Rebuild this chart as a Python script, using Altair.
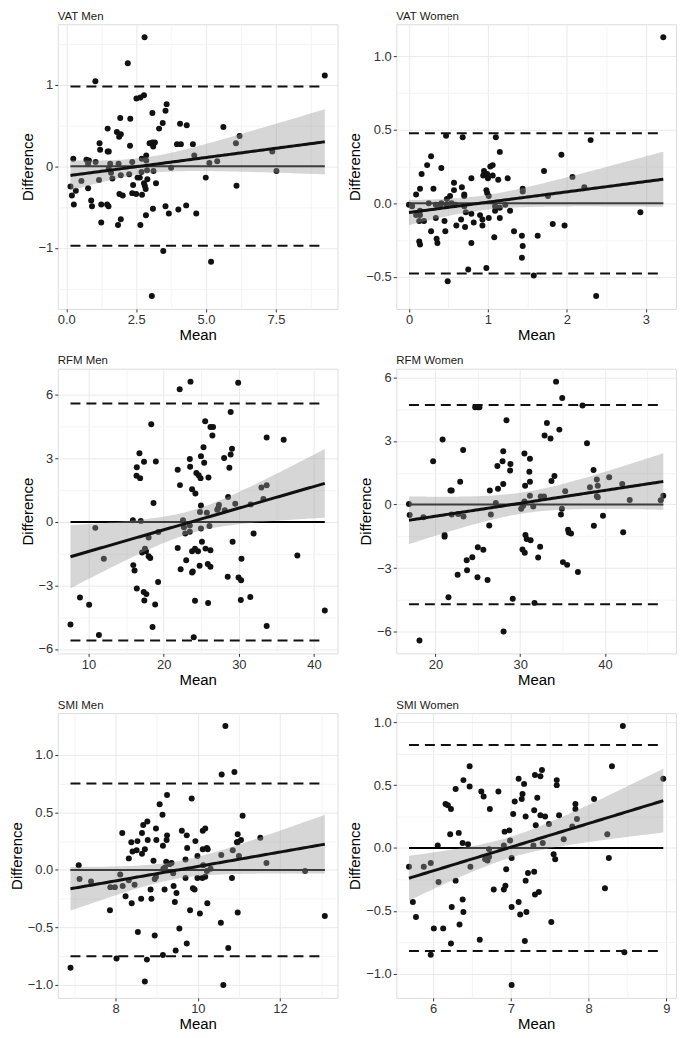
import json
import numpy as np
import pandas as pd
import altair as alt

FONT = "Liberation Sans"

# ---------------- data ----------------
vat_men_mean = [2.80, 2.20, 9.25, 1.04, 2.51, 2.65, 2.78, 3.59, 3.55, 3.08, 1.93, 2.29, 3.45, 4.07, 4.31, 5.62, 3.32,
                1.48, 1.81, 1.95, 1.89, 6.20, 1.19, 2.28, 2.98, 3.08, 3.17, 3.11, 3.96, 4.10, 4.53, 6.07, 1.21, 1.48,
                1.52, 4.58, 2.86, 2.70, 7.37, 0.25, 0.72, 0.81, 1.05, 2.86, 5.40, 0.78, 1.57, 1.87, 2.36, 5.12, 3.75,
                3.12, 2.89, 2.69, 7.52, 0.54, 1.17, 1.52, 1.65, 1.60, 1.95, 2.25, 0.15, 0.78, 2.55, 2.63, 2.39, 2.78,
                2.81, 2.84, 2.90, 3.21, 4.99, 6.09, 0.20, 0.34, 0.27, 0.89, 0.92, 1.25, 1.46, 1.51, 1.90, 2.02, 2.36,
                2.50, 2.71, 3.10, 3.55, 3.67, 4.01, 4.29, 4.65, 2.85, 1.25, 1.95, 1.85, 2.65, 3.47, 5.18, 3.06]
vat_men_diff = [1.58, 1.26, 1.11, 1.04, 0.83, 0.84, 0.87, 0.76, 0.68, 0.65, 0.59, 0.58, 0.53, 0.52, 0.50, 0.48, 0.46,
                0.46, 0.42, 0.39, 0.36, 0.37, 0.28, 0.25, 0.28, 0.29, 0.29, 0.24, 0.27, 0.27, 0.27, 0.28, 0.20, 0.18,
                0.18, 0.13, 0.13, 0.09, 0.18, 0.09, 0.08, 0.07, 0.05, 0.07, 0.06, 0.03, 0.03, 0.03, 0.05, 0.04, -0.02,
                -0.06, -0.05, -0.07, -0.06, -0.18, -0.17, -0.03, -0.15, -0.08, -0.11, -0.10, -0.25, -0.27, -0.14, -0.14,
                -0.23, -0.21, -0.24, -0.28, -0.16, -0.21, -0.14, -0.24, -0.36, -0.30, -0.47, -0.42, -0.49, -0.47, -0.47,
                -0.49, -0.34, -0.36, -0.33, -0.34, -0.35, -0.52, -0.49, -0.58, -0.53, -0.48, -0.58, -0.60, -0.69, -0.65,
                -0.72, -0.72, -1.04, -1.17, -1.59]

vat_women_mean = [3.22, 2.30, 0.47, 0.68, 1.10, 1.15, 1.93, 0.28, 0.41, 0.23, 0.16, 1.71, 0.31, 0.14, 0.09, 0.79, 0.95,
                  0.94, 0.99, 1.06, 1.03, 1.00, 1.06, 1.13, 1.25, 2.07, 2.22, 1.44, 1.44, 1.76, 0.57, 0.57, 0.67, 0.70,
                  0.70, 0.52, 0.98, 0.99, 1.01, 0.48, 0.25, 0.00, 0.04, 0.34, 0.40, 0.48, 0.54, 0.70, 0.72, 1.09, 1.15,
                  1.22, 0.14, 0.14, 0.13, 0.19, 0.34, 0.66, 0.79, 0.90, 0.93, 1.01, 1.09, 1.15, 1.28, 0.60, 0.71, 0.82,
                  0.93, 1.82, 1.97, 2.93, 0.28, 0.46, 0.45, 1.08, 1.33, 1.43, 1.63, 0.13, 0.14, 0.35, 0.36, 0.79, 1.44,
                  1.43, 0.75, 0.98, 1.58, 0.49, 2.37, 0.59, 0.41, 0.09]
vat_women_diff = [1.13, 0.43, 0.46, 0.45, 0.45, 0.35, 0.33, 0.32, 0.24, 0.26, 0.20, 0.22, 0.10, 0.10, 0.06, 0.17, 0.22,
                  0.19, 0.20, 0.26, 0.25, 0.17, 0.19, 0.16, 0.17, 0.18, 0.11, 0.10, 0.08, 0.05, 0.14, 0.09, 0.11, 0.06,
                  0.05, 0.05, 0.09, 0.07, 0.05, 0.03, 0.00, -0.01, -0.02, -0.01, -0.01, -0.01, 0.00, -0.02, -0.06, -0.02,
                  -0.03, -0.01, -0.05, -0.08, -0.12, -0.12, -0.10, -0.11, -0.07, -0.08, -0.11, -0.10, -0.05, -0.10, -0.05,
                  -0.15, -0.16, -0.13, -0.15, -0.14, -0.15, -0.06, -0.19, -0.19, -0.12, -0.23, -0.19, -0.22, -0.22, -0.26,
                  -0.28, -0.24, -0.27, -0.27, -0.29, -0.37, -0.45, -0.44, -0.49, -0.53, -0.63, -0.01, 0.00, -0.08]

rfm_men_mean = [23.57, 22.13, 29.91, 28.91, 18.35, 25.52, 26.22, 26.57, 26.48, 33.70, 35.96, 25.30, 29.09, 16.78, 28.91,
                24.96, 28.04, 23.48, 17.39, 18.96, 25.39, 21.87, 23.52, 16.43, 28.74, 24.35, 24.65, 24.91, 25.96, 16.39,
                16.87, 22.17, 23.78, 24.22, 33.00, 33.70, 33.26, 28.57, 18.65, 29.52, 31.57, 27.35, 27.26, 27.13, 28.13,
                24.96, 24.83, 25.74, 15.91, 16.96, 22.57, 10.91, 12.04, 22.70, 23.48, 23.48, 22.87, 24.96, 26.09, 19.30,
                18.00, 17.52, 17.65, 17.13, 18.00, 18.22, 21.87, 23.78, 24.17, 24.57, 25.09, 25.57, 26.22, 29.17, 31.96,
                30.35, 37.78, 23.00, 22.26, 23.87, 23.78, 24.78, 25.87, 26.22, 15.96, 16.13, 19.26, 28.52, 29.96, 30.30,
                16.43, 17.35, 17.70, 8.87, 10.09, 17.43, 18.87, 24.17, 25.91, 30.26, 31.52, 7.61, 41.43, 18.52, 33.70,
                11.39, 24.00]
rfm_men_diff = [6.63, 6.27, 6.58, 5.20, 4.62, 4.76, 4.49, 4.49, 4.08, 3.99, 3.88, 3.53, 3.46, 3.25, 3.19, 3.11, 3.02,
                2.97, 2.84, 2.86, 2.80, 2.47, 2.61, 2.58, 2.56, 2.31, 2.21, 2.07, 2.10, 2.18, 2.07, 1.74, 1.55, 1.34,
                1.63, 1.73, 1.08, 1.18, 0.90, 0.86, 0.83, 0.80, 0.66, 0.58, 0.55, 0.78, 0.47, 0.44, 0.08, 0.05, 0.08,
                -0.28, -1.74, -0.25, -0.17, -0.46, -0.55, -0.31, -0.19, -0.47, -0.74, -1.27, -1.38, -1.44, -1.62, -1.70,
                -1.23, -1.38, -1.26, -1.38, -0.94, -1.26, -1.34, -0.94, -0.55, -1.74, -1.59, -1.81, -2.23, -2.34, -2.39,
                -2.07, -1.99, -2.12, -2.04, -2.29, -2.84, -2.59, -2.62, -2.76, -3.14, -3.31, -3.41, -3.57, -3.91, -3.71,
                -3.90, -3.72, -3.83, -3.69, -3.55, -4.85, -4.18, -4.96, -4.92, -5.34, -5.45]

rfm_women_mean = [34.23, 34.96, 37.35, 24.69, 25.00, 25.19, 28.38, 33.15, 34.62, 32.88, 33.58, 20.85, 37.88, 23.27,
                  28.00, 30.50, 31.15, 19.73, 27.92, 28.85, 27.31, 28.81, 31.08, 38.65, 34.04, 33.69, 39.04, 40.50,
                  22.92, 31.15, 28.00, 30.58, 39.15, 42.04, 38.23, 21.92, 21.77, 26.42, 27.38, 35.31, 39.04, 39.15,
                  31.15, 32.42, 32.81, 42.92, 46.88, 46.58, 16.88, 27.12, 30.50, 30.35, 30.12, 31.54, 34.92, 16.96,
                  18.58, 21.92, 22.69, 23.31, 26.54, 34.81, 39.77, 26.35, 38.69, 21.08, 21.08, 30.62, 30.77, 31.23,
                  35.65, 35.73, 36.00, 42.15, 25.00, 25.65, 30.27, 30.54, 32.35, 32.12, 24.35, 23.69, 35.04, 35.54,
                  22.62, 23.73, 24.96, 26.15, 36.81, 21.54, 29.12, 31.69, 28.04, 18.12]
rfm_women_diff = [5.79, 5.02, 4.67, 4.58, 4.58, 4.58, 3.97, 3.84, 3.53, 3.25, 3.11, 3.06, 2.89, 2.57, 2.51, 2.40, 2.16,
                  2.04, 2.04, 1.91, 1.82, 1.60, 1.55, 1.63, 1.35, 1.11, 1.18, 1.29, 1.07, 1.07, 0.97, 0.89, 0.89, 0.97,
                  0.82, 0.66, 0.66, 0.66, 0.74, 0.63, 0.39, 0.35, 0.42, 0.38, 0.38, 0.22, 0.42, 0.20, 0.03, 0.08, 0.14,
                  -0.05, -0.20, -0.09, -0.20, -0.49, -0.60, -0.47, -0.44, -0.56, -0.47, -0.47, -0.53, -0.99, -1.00,
                  -1.43, -1.51, -1.43, -1.62, -1.68, -1.19, -1.32, -1.36, -1.30, -2.01, -2.13, -2.12, -2.27, -1.99,
                  -2.49, -2.48, -2.62, -2.71, -2.84, -3.31, -3.09, -3.42, -3.55, -3.18, -4.36, -4.44, -4.63, -5.98,
                  -6.40]

smi_men_mean = [10.67, 10.89, 10.58, 9.25, 9.85, 9.07, 9.14, 11.09, 8.77, 8.67, 8.98, 8.16, 8.64, 9.25, 9.61, 9.73,
                10.12, 10.18, 10.97, 8.53, 8.38, 8.78, 8.99, 9.24, 9.94, 10.95, 11.05, 11.52, 8.41, 8.51, 8.71, 8.64,
                8.32, 9.15, 9.74, 9.99, 10.12, 10.22, 10.24, 10.97, 10.85, 11.00, 10.57, 7.10, 8.92, 9.23, 9.70, 9.31,
                9.36, 11.67, 9.16, 9.20, 9.40, 10.13, 10.31, 10.22, 12.61, 7.12, 7.40, 8.11, 8.32, 8.46, 7.87, 7.98,
                8.17, 8.95, 8.98, 9.70, 9.99, 10.11, 10.18, 10.83, 8.85, 9.19, 9.41, 9.48, 9.88, 9.92, 8.24, 8.39,
                8.62, 8.87, 9.44, 10.23, 7.86, 9.81, 10.05, 10.97, 13.09, 10.56, 9.55, 8.54, 8.95, 9.73, 10.74, 9.46,
                9.15, 8.02, 8.76, 6.90, 8.71, 10.62]
smi_men_diff = [1.25, 0.85, 0.83, 0.65, 0.62, 0.57, 0.48, 0.47, 0.42, 0.39, 0.36, 0.32, 0.32, 0.30, 0.34, 0.30, 0.34,
                0.36, 0.31, 0.25, 0.24, 0.26, 0.26, 0.26, 0.25, 0.24, 0.26, 0.28, 0.16, 0.17, 0.18, 0.14, 0.10, 0.21,
                0.19, 0.12, 0.18, 0.19, 0.18, 0.24, 0.17, 0.12, 0.13, 0.04, 0.08, 0.07, 0.09, 0.05, 0.06, 0.06, 0.01,
                0.02, -0.03, 0.04, 0.01, -0.01, -0.01, -0.08, -0.10, -0.04, -0.09, -0.13, -0.15, -0.15, -0.14, -0.08,
                -0.06, -0.07, -0.07, -0.07, -0.06, -0.07, -0.17, -0.17, -0.14, -0.20, -0.16, -0.17, -0.23, -0.29,
                -0.25, -0.25, -0.28, -0.29, -0.35, -0.35, -0.38, -0.37, -0.40, -0.46, -0.51, -0.54, -0.57, -0.64,
                -0.68, -0.70, -0.74, -0.77, -0.78, -0.85, -0.97, -1.00]

smi_women_mean = [8.44, 8.30, 6.47, 7.40, 7.31, 7.38, 7.10, 8.96, 6.39, 7.59, 7.59, 6.47, 6.29, 7.17, 6.62, 6.65, 6.84,
                  7.15, 7.14, 7.05, 7.34, 6.16, 6.19, 6.23, 6.73, 7.30, 7.83, 7.83, 8.07, 7.03, 7.19, 7.38, 7.44, 7.62,
                  7.32, 7.49, 7.79, 7.85, 6.22, 6.33, 8.24, 6.92, 6.98, 6.99, 7.68, 6.06, 6.38, 6.45, 6.91, 7.29, 7.41,
                  6.72, 6.67, 6.70, 6.72, 5.69, 5.88, 5.97, 6.07, 6.48, 7.01, 6.94, 7.55, 7.57, 8.26, 7.22, 7.30, 7.19,
                  6.29, 6.78, 6.91, 6.93, 7.31, 7.36, 8.21, 5.74, 6.38, 7.10, 6.24, 6.39, 7.01, 7.12, 7.20, 5.78, 6.01,
                  6.13, 6.34, 7.52, 6.60, 6.23, 7.18, 5.97, 8.46, 7.01]
smi_women_diff = [0.97, 0.65, 0.65, 0.62, 0.58, 0.57, 0.55, 0.55, 0.54, 0.54, 0.50, 0.49, 0.47, 0.51, 0.45, 0.41, 0.45,
                  0.43, 0.39, 0.37, 0.40, 0.35, 0.34, 0.31, 0.31, 0.30, 0.35, 0.31, 0.39, 0.27, 0.25, 0.26, 0.25, 0.26,
                  0.18, 0.19, 0.17, 0.23, 0.11, 0.12, 0.11, 0.13, 0.14, 0.06, 0.07, 0.02, 0.04, 0.03, 0.02, 0.02, 0.04,
                  -0.01, -0.09, -0.10, -0.07, -0.15, -0.15, -0.12, -0.27, -0.15, -0.08, -0.17, -0.05, -0.09, -0.08,
                  -0.20, -0.19, -0.26, -0.26, -0.33, -0.33, -0.30, -0.37, -0.35, -0.32, -0.43, -0.41, -0.43, -0.47,
                  -0.51, -0.47, -0.53, -0.51, -0.55, -0.64, -0.64, -0.61, -0.59, -0.73, -0.76, -0.74, -0.85, -0.83,
                  -1.09]

titles = ["VAT Men", "VAT Women", "RFM Men", "RFM Women", "SMI Men", "SMI Women"]
bias = [0.0, 0.0, 0.0, 0.0, 0.0, 0.0]
limits_of_agreement = [0.975, 0.477, 5.60, 4.69, 0.75, 0.82]

x_major = [[0, 2.5, 5, 7.5], [0, 1, 2, 3], [10, 20, 30, 40], [20, 30, 40], [8, 10, 12], [6, 7, 8, 9]]
x_minor = [[1.25, 3.75, 6.25, 8.75], [0.5, 1.5, 2.5], [15, 25, 35], [25, 35, 45], [7, 9, 11, 13], [6.5, 7.5, 8.5]]
x_fmt = [".1f", "d", "d", "d", "d", "d"]
y_major = [[-1, 0, 1], [-0.5, 0, 0.5, 1.0], [-6, -3, 0, 3, 6], [-6, -3, 0, 3, 6],
           [-1, -0.5, 0, 0.5, 1.0], [-1, -0.5, 0, 0.5, 1.0]]
y_minor = [[-1.5, -0.5, 0.5, 1.5], [-0.25, 0.25, 0.75], [-4.5, -1.5, 1.5, 4.5], [-4.5, -1.5, 1.5, 4.5],
           [-0.75, -0.25, 0.25, 0.75], [-0.75, -0.25, 0.25, 0.75]]
y_fmt = ["d", ".1f", "d", "d", ".1f", ".1f"]

means = [vat_men_mean, vat_women_mean, rfm_men_mean, rfm_women_mean, smi_men_mean, smi_women_mean]
diffs = [vat_men_diff, vat_women_diff, rfm_men_diff, rfm_women_diff, smi_men_diff, smi_women_diff]

PANEL_W, PANEL_H = 281, 286


def t_quantile(df, z=1.959964):
    return (z + (z ** 3 + z) / (4 * df) + (5 * z ** 5 + 16 * z ** 3 + 3 * z) / (96 * df ** 2))


def lm_band(x, y, n_grid=100):
    x = np.asarray(x, float)
    y = np.asarray(y, float)
    n = len(x)
    b1, b0 = np.polyfit(x, y, 1)
    resid = y - (b0 + b1 * x)
    s = np.sqrt((resid ** 2).sum() / (n - 2))
    xbar = x.mean()
    sxx = ((x - xbar) ** 2).sum()
    g = np.linspace(x.min(), x.max(), n_grid)
    fit = b0 + b1 * g
    se = s * np.sqrt(1.0 / n + (g - xbar) ** 2 / sxx)
    t = t_quantile(n - 2)
    return pd.DataFrame({"x": g, "fit": fit, "lo": fit - t * se, "hi": fit + t * se})


def make_axis(title, major, minor, fmt, title_pad):
    vals = sorted(major + minor)
    test = "indexof(%s, datum.value) >= 0" % json.dumps(minor)
    return alt.Axis(
        title=title, values=vals,
        labelExpr="(%s) ? '' : format(datum.value, '%s')" % (test, fmt),
        gridColor={"condition": {"test": test, "value": "#f4f4f4"}, "value": "#e9e9e9"},
        tickColor={"condition": {"test": test, "value": "rgba(0,0,0,0)"}, "value": "#333333"},
        gridWidth=1, domain=False, tickSize=3, tickWidth=1, minExtent=0,
        labelFont=FONT, labelFontSize=13, labelColor="#333333", labelPadding=2,
        labelFlush=False, labelOverlap=False,
        titleFont=FONT, titleFontSize=15, titleFontWeight="normal", titleColor="black", titlePadding=title_pad,
    )


def panel(i):
    x = means[i]
    y = diffs[i]
    pts = pd.DataFrame({"x": x, "y": y})
    band = lm_band(x, y)
    xmin, xmax = min(x), max(x)
    ylo = bias[i] - limits_of_agreement[i]
    yhi = bias[i] + limits_of_agreement[i]
    zero = pd.DataFrame({"x": [xmin, xmax], "y": [bias[i], bias[i]]})
    loa = pd.DataFrame({"x": [xmin, xmax, xmin, xmax], "y": [yhi, yhi, ylo, ylo], "g": ["u", "u", "l", "l"]})

    yall = list(y) + list(band["lo"]) + list(band["hi"]) + [ylo, yhi]
    xpad = 0.05 * (xmax - xmin)
    ypad = 0.05 * (max(yall) - min(yall))
    xs = alt.Scale(domain=[xmin - xpad, xmax + xpad], nice=False, zero=False)
    ys = alt.Scale(domain=[min(yall) - ypad, max(yall) + ypad], nice=False, zero=False)
    xa = make_axis("Mean", x_major[i], x_minor[i], x_fmt[i], 1)
    ya = make_axis("Difference", y_major[i], y_minor[i], y_fmt[i], 3)

    p = alt.Chart(pts).mark_circle(size=36, color="#111111", opacity=1).encode(
        x=alt.X("x:Q", scale=xs, axis=xa), y=alt.Y("y:Q", scale=ys, axis=ya))
    z = alt.Chart(zero).mark_line(color="black", strokeWidth=2).encode(
        x=alt.X("x:Q", scale=xs, axis=xa), y=alt.Y("y:Q", scale=ys, axis=ya))
    b = alt.Chart(band).mark_area(color="#999999", opacity=0.4).encode(
        x=alt.X("x:Q", scale=xs, axis=xa), y=alt.Y("lo:Q", scale=ys, axis=ya), y2="hi:Q")
    f = alt.Chart(band).mark_line(color="#111111", strokeWidth=3).encode(
        x=alt.X("x:Q", scale=xs, axis=xa), y=alt.Y("fit:Q", scale=ys, axis=ya))
    d = alt.Chart(loa).mark_line(color="#111111", strokeWidth=2, strokeDash=[10, 6]).encode(
        x=alt.X("x:Q", scale=xs, axis=xa), y=alt.Y("y:Q", scale=ys, axis=ya), detail="g:N")
    return alt.layer(p, z, b, f, d).properties(
        width=PANEL_W, height=PANEL_H,
        title=alt.TitleParams(titles[i], anchor="start", frame="group", font=FONT, fontSize=11.5,
                              fontWeight="normal", color="#1a1a1a", offset=2),
    )


chart = alt.concat(*[panel(i) for i in range(6)], columns=2,
                   spacing={"row": 11, "column": 8}).resolve_scale(
    x="independent", y="independent").properties(padding=0).configure_view(
    stroke="#555555", strokeWidth=1).configure(background="white")

chart.save("out.html", embed_options={"renderer": "svg", "actions": False})
